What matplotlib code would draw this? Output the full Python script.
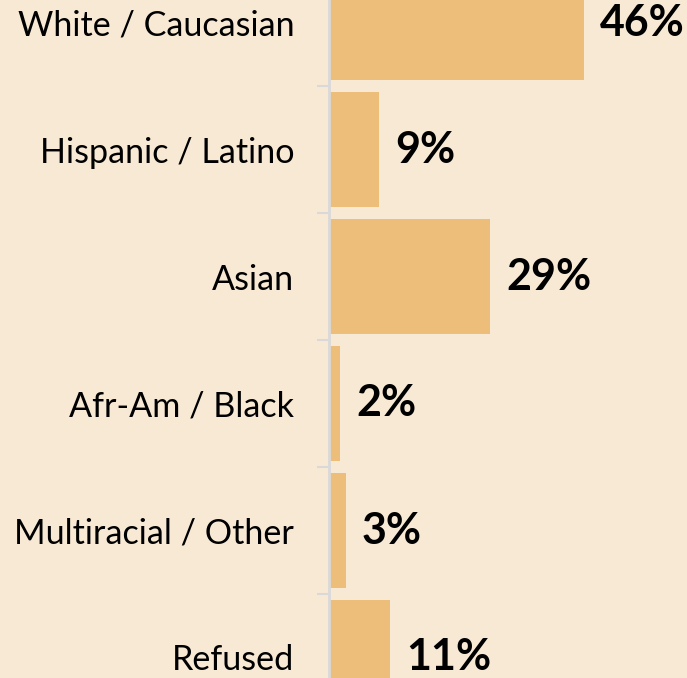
import matplotlib
matplotlib.use("Agg")
import matplotlib.pyplot as plt

# Datos del gráfico
categorias = ["White / Caucasian", "Hispanic / Latino", "Asian",
              "Afr-Am / Black", "Multiracial / Other", "Refused"]
porcentajes = [46, 9, 29, 2, 3, 11]
etiquetas = ["46%", "9%", "29%", "2%", "3%", "11%"]

fondo = "#F8E9D4"
color_barra = "#EDBE7A"

plt.rcParams['font.family'] = ['Lato', 'DejaVu Sans']

fig = plt.figure(figsize=(6.87, 6.78), dpi=100, facecolor=fondo)
# el eje se sale del lienzo arriba y abajo, como en la imagen recortada
ax = fig.add_axes([329 / 687, (678 - 721) / 678, (687 - 329) / 687, 762 / 678])
ax.set_facecolor(fondo)

pos = list(range(len(categorias)))
ax.barh(pos, porcentajes, height=0.905, color=color_barra)

ax.set_ylim(len(categorias) - 0.5, -0.5)
ax.set_xlim(0, 358 / 5.55)

# etiquetas de valor
for p, v, t in zip(pos, porcentajes, etiquetas):
    ax.text(v + 16 / 5.55, p, t, va="center", ha="left",
            fontsize=31, fontweight="bold", color="black")

# nombres de categoría a la izquierda
ax.set_yticks(pos)
ax.set_yticklabels(categorias, fontsize=24.6)
ax.tick_params(axis="y", which="major", length=0, pad=25)
ax.set_yticks([i + 0.5 for i in pos[:-1]], minor=True)
ax.tick_params(axis="y", which="minor", length=9, width=1.5, color="#D9D9D9")
ax.set_xticks([])

for lado in ["top", "right", "bottom"]:
    ax.spines[lado].set_visible(False)
ax.spines["left"].set_color("#D9D9D9")
ax.spines["left"].set_linewidth(2)

fig.savefig("out.png", dpi=100, facecolor=fondo)
